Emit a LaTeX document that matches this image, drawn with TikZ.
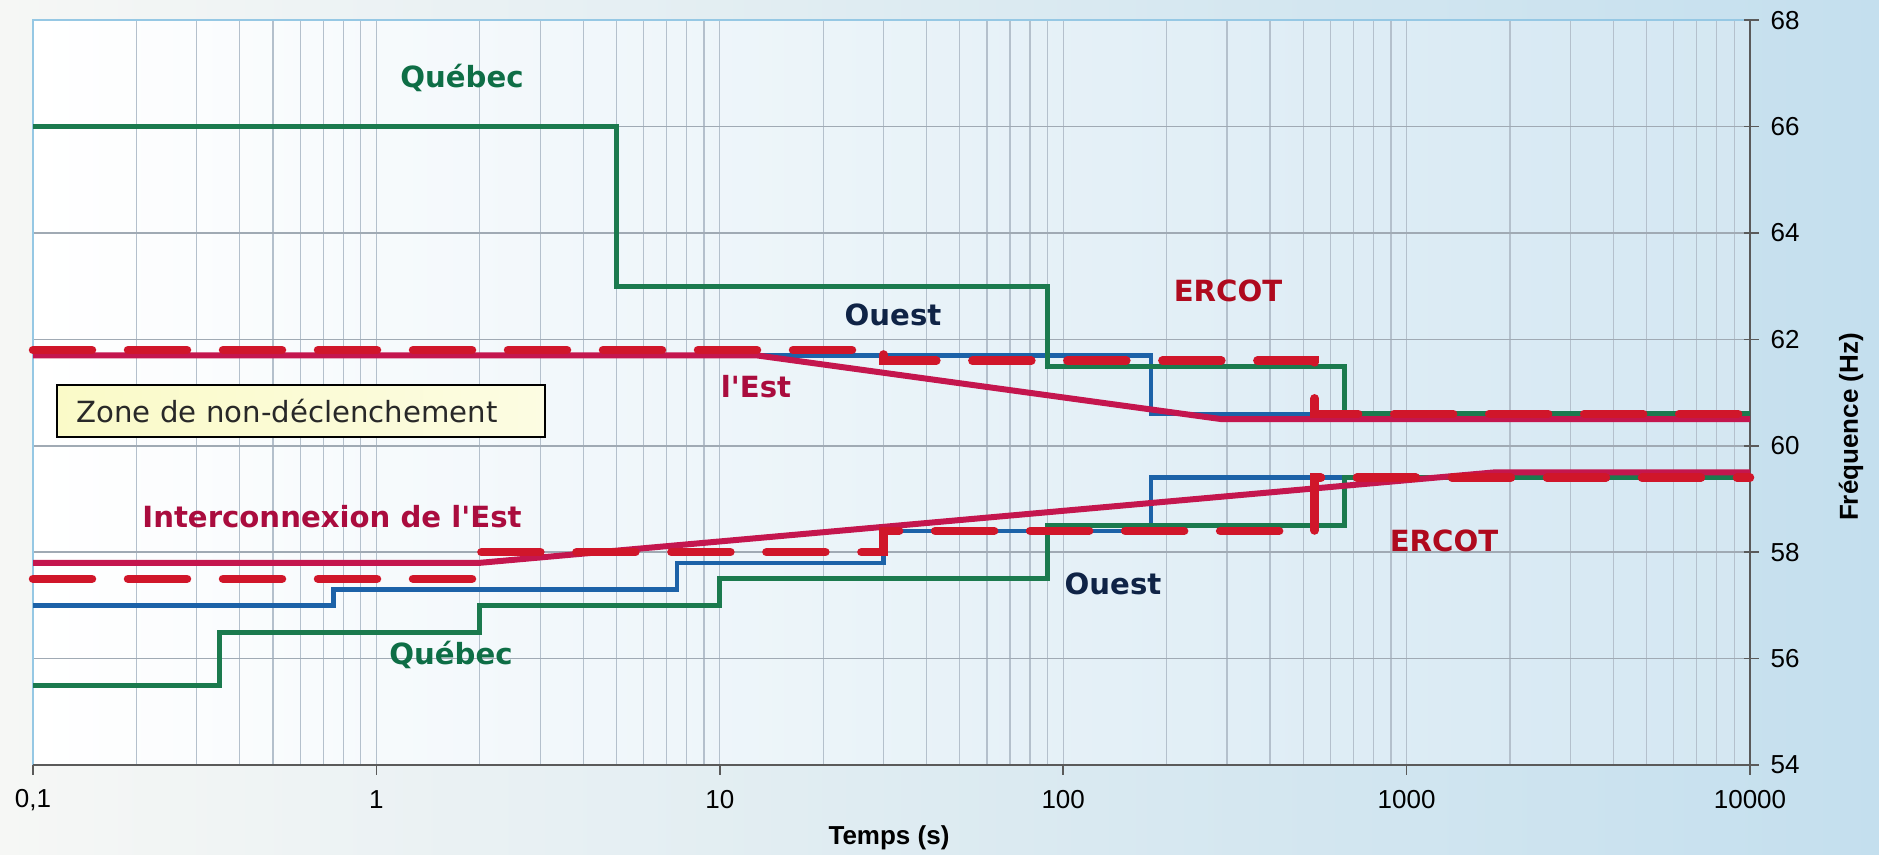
\documentclass[tikz,border=0pt]{standalone}
\usepackage{fontspec}
\setmainfont{Liberation Sans}
\newfontfamily\labelfont{DejaVu Sans}
\definecolor{ouestblue}{RGB}{28,98,168}
\definecolor{quebecgreen}{RGB}{27,122,78}
\definecolor{estred}{RGB}{196,22,78}
\definecolor{ercotred}{RGB}{208,22,42}
\definecolor{quebectext}{RGB}{14,110,70}
\definecolor{ouesttext}{RGB}{15,35,70}
\definecolor{esttext}{RGB}{170,12,62}
\definecolor{ercottext}{RGB}{175,10,30}
\begin{document}
\begin{tikzpicture}[
  grille/.style={draw={rgb,255:red,180;green,192;blue,204}, line width=0.35pt},
  grilleh/.style={draw={rgb,255:red,160;green,170;blue,180}, line width=0.45pt},
  axe/.style={draw={rgb,255:red,90;green,90;blue,90}, line width=0.5pt},
  ouest/.style={draw=ouestblue, line width=0.45mm},
  quebec/.style={draw=quebecgreen, line width=0.5mm},
  est/.style={draw=estred, line width=0.6mm},
  ercot/.style={draw=ercotred, line width=0.85mm, line cap=round, dash pattern=on 5.9mm off 3.6mm},
  etiq/.style={font=\labelfont\bfseries\fontsize{8.3}{10}\selectfont},
  graduation/.style={font=\fontsize{7.4}{9}\selectfont},
  titre/.style={font=\bfseries\fontsize{7.4}{9}\selectfont}
]
\useasboundingbox (0,0) rectangle (18.79,8.55);
\fill[left color={rgb,255:red,246;green,247;blue,245}, right color={rgb,255:red,196;green,223;blue,238}] (0,0) rectangle (18.79,8.55);
\fill[left color=white, middle color={rgb,255:red,230;green,239;blue,244}, right color={rgb,255:red,212;green,231;blue,242}] (0.33,0.90) rectangle (17.50,8.35);
\begin{scope}[shift={(3.764cm,-27.828cm)}, x=3.434cm, y=0.532cm]
\foreach \d in {-1,0,1,2,3}
  \foreach \m in {2,...,9}
    \draw[grille] ({\d+log10(\m)},54) -- ({\d+log10(\m)},68);
\foreach \d in {0,1,2,3}
  \draw[grille] (\d,54) -- (\d,68);
\foreach \f in {56,58,...,66}
  \draw[grilleh] (-1,\f) -- (4,\f);
\draw[draw={rgb,255:red,150;green,200;blue,228}, line width=0.6pt] (-1,54) -- (-1,68) -- (4,68);
\draw[axe] (-1,54) -- (4,54);
\draw[axe] (4,54) -- (4,68);
\foreach \f in {54,56,...,68} {
  \draw[axe] ([xshift=-0.6mm]4,\f) -- ([xshift=0.9mm]4,\f);
  \node[graduation] (yl\f) at ([xshift=3.5mm]4,\f) {\f};
}
\foreach \x/\lab in {-1/{0,1},0/1,1/10,2/100,3/1000,4/10000} {
  \draw[axe] (\x,54) -- ([yshift=-1mm]\x,54);
  \node[graduation] (xl\x) at ([yshift=-3.5mm]\x,54) {\lab};
}
\draw[ouest] (-1,61.7) -- ({log10(180)},61.7) -- ({log10(180)},60.6) -- (4,60.6);
\draw[ouest] (-1,57) -- ({log10(0.75)},57) -- ({log10(0.75)},57.3) -- ({log10(7.5)},57.3) -- ({log10(7.5)},57.8) -- ({log10(30)},57.8) -- ({log10(30)},58.4) -- ({log10(180)},58.4) -- ({log10(180)},59.4) -- (4,59.4);
\draw[quebec] (-1,66) -- ({log10(5)},66) -- ({log10(5)},63) -- ({log10(90)},63) -- ({log10(90)},61.5) -- ({log10(660)},61.5) -- ({log10(660)},60.6) -- (4,60.6);
\draw[quebec] (-1,55.5) -- ({log10(0.35)},55.5) -- ({log10(0.35)},56.5) -- ({log10(2)},56.5) -- ({log10(2)},57) -- (1,57) -- (1,57.5) -- ({log10(90)},57.5) -- ({log10(90)},58.5) -- ({log10(660)},58.5) -- ({log10(660)},59.4) -- (4,59.4);
\draw[est] (-1,61.7) -- ({log10(12.8)},61.7) -- ({log10(290)},60.5) -- (4,60.5);
\draw[est] (-1,57.8) -- ({log10(2)},57.8) -- ({log10(1800)},59.5) -- (4,59.5);
\draw[ercot] (-1,61.8) -- ({log10(30)},61.8) -- ({log10(30)},61.6) -- ({log10(540)},61.6) -- ({log10(540)},60.6) -- (4,60.6);
\draw[ercot] (-1,57.5) -- ({log10(2)},57.5) -- ({log10(2)},58) -- ({log10(30)},58) -- ({log10(30)},58.4) -- ({log10(540)},58.4) -- ({log10(540)},59.4) -- (4,59.4);
\end{scope}
\node[etiq, text=quebectext] (quebecHaut) at (4.62,7.77) {Québec};
\node[etiq, text=ouesttext] (ouestHaut) at (8.93,5.40) {Ouest};
\node[etiq, text=esttext] (estHaut) at (7.56,4.68) {l'Est};
\node[etiq, text=ercottext] (ercotHaut) at (12.28,5.64) {ERCOT};
\node[etiq, text=esttext] (estBas) at (3.32,3.38) {Interconnexion de l'Est};
\node[etiq, text=quebectext] (quebecBas) at (4.51,2.00) {Québec};
\node[etiq, text=ouesttext] (ouestBas) at (11.13,2.71) {Ouest};
\node[etiq, text=ercottext] (ercotBas) at (14.44,3.14) {ERCOT};
\node[draw=black, line width=0.7pt, left color={rgb,255:red,250;green,250;blue,200}, right color={rgb,255:red,252;green,252;blue,226}, anchor=west, minimum width=4.88cm, minimum height=0.52cm, inner xsep=1.9mm, text width=4.5cm, align=left, text={rgb,255:red,40;green,40;blue,40}, font=\labelfont\fontsize{8.3}{10}\selectfont] (zone) at (0.56,4.44) {Zone de non-déclenchement};
\node[titre] (temps) at (8.89,0.17) {Temps (s)};
\node[titre, rotate=90] (frequence) at (18.51,4.28) {Fréquence (Hz)};
\end{tikzpicture}
\end{document}
